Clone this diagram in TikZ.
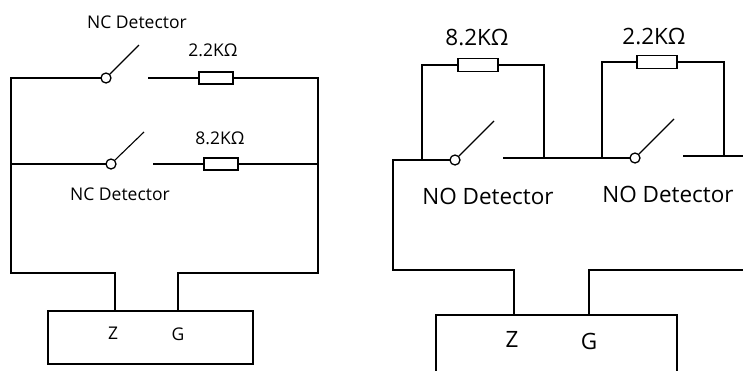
\documentclass[tikz,border=0pt]{standalone}
\usepackage{fontspec}
\setmainfont{Open Sans}
\begin{document}
\begin{tikzpicture}[x=1pt,y=-1pt,
  wire/.style={line width=1.5pt, line cap=rect},
  arm/.style={line width=1.1pt},
  pivot/.style={circle, draw, line width=1.3pt, fill=white, minimum size=10pt, inner sep=0pt},
  resistor/.style={rectangle, draw, line width=1.5pt, fill=white, minimum width=34pt, minimum height=12pt, inner sep=0pt},
  resR/.style={resistor, minimum width=40pt, minimum height=13pt},
  lblL/.style={font=\fontsize{17.5}{20}\selectfont, inner sep=0pt},
  lblR/.style={font=\fontsize{22.5}{26}\selectfont, inner sep=0pt},
  panel/.style={draw, line width=1.5pt, inner sep=0pt}]
\useasboundingbox (0,0) rectangle (743,370);

% ---------- Left circuit (NC) ----------
\coordinate (l1) at (11,78);
\coordinate (l2) at (11,164);
\coordinate (lb) at (11,273);
\coordinate (r1) at (318,78);
\coordinate (r2) at (318,164);
\coordinate (rb) at (318,273);
\coordinate (zb) at (115,273);
\coordinate (gb) at (178,273);
\node[panel, minimum width=205pt, minimum height=53pt] (boxL) at (150.5,337.5) {};
\coordinate (zt) at (115,311);
\coordinate (gt) at (178,311);

\node[pivot] (c1) at (106,78) {};
\coordinate (a1) at (139,45);
\coordinate (k1) at (149,78);
\node[resistor] (res1) at (216,78) {};

\node[pivot] (c2) at (111,164) {};
\coordinate (a2) at (144,132);
\coordinate (k2) at (154,164);
\node[resistor] (res2) at (221,164) {};

\draw[wire] (c1.west) -- (l1) -- (lb) -- (zb) -- (zt);
\draw[wire] (l2) -- (c2.west);
\draw[wire] (k1) -- (res1.west);
\draw[wire] (res1.east) -- (r1) -- (rb) -- (gb) -- (gt);
\draw[wire] (k2) -- (res2.west);
\draw[wire] (res2.east) -- (r2);
\draw[arm] (c1.45) -- (a1);
\draw[arm] (c2.45) -- (a2);

\node[lblL] (t1) at (137,22) {NC Detector};
\node[lblL] (t2) at (213,50) {2.2KΩ};
\node[lblL] (t3) at (220,138) {8.2KΩ};
\node[lblL] (t4) at (120,194) {NC Detector};
\node[lblL] (zL) at (113,333) {Z};
\node[lblL] (gL) at (178,334) {G};

% ---------- Right circuit (NO) ----------
\coordinate (m0) at (393,160);
\coordinate (mb) at (393,270);
\coordinate (j1) at (422,160);
\coordinate (j1t) at (422,65);
\coordinate (e1t) at (544,65);
\coordinate (e1) at (544,158);
\coordinate (j2) at (602,158);
\coordinate (j2t) at (602,62);
\coordinate (e2t) at (724,62);
\coordinate (e2) at (724,156);
\coordinate (endT) at (743,156);
\coordinate (endB) at (743,270);
\coordinate (zb2) at (514,270);
\coordinate (gb2) at (589,270);
\coordinate (zt2) at (514,315);
\coordinate (gt2) at (589,315);
\coordinate (bx1) at (436,380);
\coordinate (bx2) at (436,315);
\coordinate (bx3) at (677,315);
\coordinate (bx4) at (677,380);

\node[pivot] (c3) at (455,160) {};
\coordinate (a3) at (494,121);
\coordinate (k3) at (504,158);
\node[resR] (res3) at (478,65) {};

\node[pivot] (c4) at (635,158) {};
\coordinate (a4) at (674,119);
\coordinate (k4) at (684,156);
\node[resR] (res4) at (657,62) {};

\draw[wire] (c3.west) -- (m0) -- (mb) -- (zb2) -- (zt2);
\draw[wire] (j1) -- (j1t) -- (res3.west);
\draw[wire] (res3.east) -- (e1t) -- (e1);
\draw[wire] (k3) -- (j2) -- (c4.west);
\draw[wire] (j2) -- (j2t) -- (res4.west);
\draw[wire] (res4.east) -- (e2t) -- (e2);
\draw[wire] (k4) -- (endT);
\draw[wire] (endB) -- (gb2) -- (gt2);
\draw[wire] (bx1) -- (bx2) -- (bx3) -- (bx4);
\draw[arm] (c3.45) -- (a3);
\draw[arm] (c4.45) -- (a4);

\node[lblR] (t5) at (477,37) {8.2KΩ};
\node[lblR] (t6) at (654,36) {2.2KΩ};
\node[lblR] (t7) at (488,196) {NO Detector};
\node[lblR] (t8) at (668,194) {NO Detector};
\node[lblR] (zR) at (512,339) {Z};
\node[lblR] (gR) at (589,341) {G};
\end{tikzpicture}
\end{document}
